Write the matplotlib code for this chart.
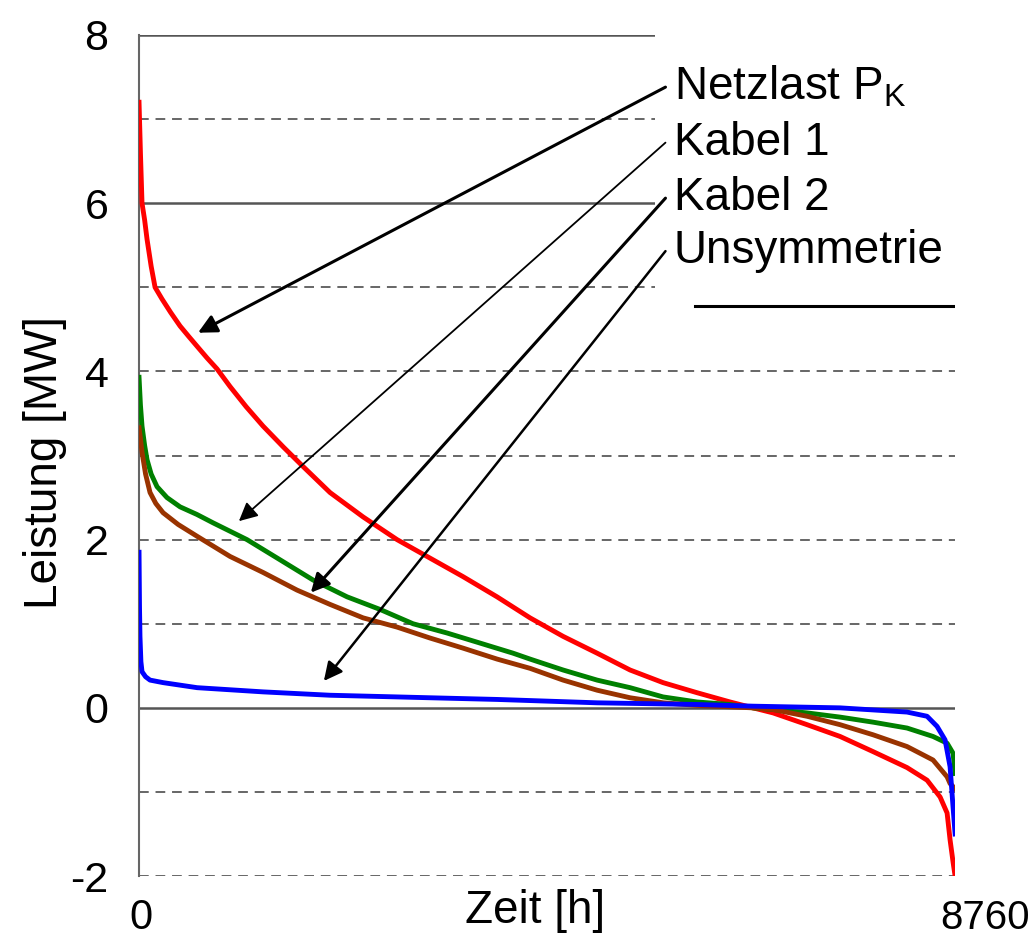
import matplotlib
matplotlib.use('Agg')
import matplotlib.pyplot as plt
from matplotlib.patches import Rectangle

plt.rcParams['font.family'] = ['Liberation Sans', 'DejaVu Sans']
plt.rcParams['mathtext.default'] = 'regular'

# Dauerlinien (sortiert)
netz_x = [0, 15, 32, 60, 86, 130, 172, 247, 340, 440, 530, 622, 730, 837, 977, 1150, 1331,
          1550, 1760, 2050, 2405, 2770, 3124, 3478, 3843, 4197, 4552, 4917, 5271, 5625,
          5990, 6344, 6591, 6806, 7171, 7525, 7879, 8244, 8459, 8599, 8674, 8706, 8740, 8760]
netz_y = [7.2, 6.6, 6.0, 5.8, 5.57, 5.25, 5.0, 4.86, 4.7, 4.54, 4.42, 4.3, 4.16, 4.03, 3.82,
          3.58, 3.35, 3.1, 2.87, 2.56, 2.27, 2.0, 1.78, 1.56, 1.32, 1.07, 0.85, 0.65, 0.45,
          0.3, 0.18, 0.07, 0.0, -0.06, -0.2, -0.34, -0.52, -0.71, -0.86, -1.06, -1.25,
          -1.57, -1.85, -2.0]

kabel1_x = [0, 15, 32, 60, 86, 130, 193, 300, 440, 620, 794, 1159, 1514, 1868, 2233, 2587,
            2941, 3306, 3661, 4015, 4197, 4552, 4917, 5271, 5625, 5990, 6344, 6591, 6806,
            7171, 7525, 7879, 8244, 8523, 8674, 8738, 8760]
kabel1_y = [3.93, 3.6, 3.35, 3.12, 2.95, 2.78, 2.63, 2.5, 2.39, 2.3, 2.2, 2.0, 1.76, 1.52,
            1.32, 1.17, 1.0, 0.89, 0.77, 0.65, 0.58, 0.45, 0.33, 0.24, 0.13, 0.07, 0.04,
            0.0, -0.02, -0.06, -0.11, -0.17, -0.24, -0.34, -0.42, -0.54, -0.78]

kabel2_x = [0, 15, 32, 70, 118, 180, 258, 420, 623, 977, 1331, 1696, 2050, 2405, 2770,
            3124, 3478, 3843, 4197, 4552, 4917, 5271, 5625, 5990, 6591, 6806, 7171, 7525,
            7879, 8244, 8523, 8674, 8706, 8760]
kabel2_y = [3.33, 3.2, 3.04, 2.78, 2.56, 2.43, 2.32, 2.18, 2.04, 1.8, 1.61, 1.4, 1.23, 1.07,
            0.96, 0.83, 0.71, 0.58, 0.47, 0.33, 0.21, 0.12, 0.06, 0.03, 0.0, -0.02, -0.1,
            -0.2, -0.32, -0.46, -0.62, -0.82, -0.9, -0.96]

unsym_x = [0, 5, 10, 20, 32, 70, 118, 258, 623, 1331, 2050, 2770, 3124, 3843, 4917, 5990,
           6591, 7525, 8244, 8459, 8566, 8652, 8706, 8738, 8760]
unsym_y = [1.85, 1.2, 0.85, 0.55, 0.43, 0.37, 0.33, 0.3, 0.24, 0.19, 0.15, 0.13, 0.12, 0.1,
           0.06, 0.04, 0.02, 0.0, -0.05, -0.1, -0.22, -0.38, -0.7, -1.18, -1.5]

labels = ['Netzlast P$_{K}$', 'Kabel 1', 'Kabel 2', 'Unsymmetrie']
label_y = [7.38, 6.72, 6.06, 5.43]
arrow_tip = [(633, 4.46), (1072, 2.22), (1844, 1.37), (1984, 0.32)]
arrow_lw = [2.2, 1.3, 2.2, 1.8]

solid_grid = [8, 6, 0]
dashed_grid = [7, 5, 4, 3, 2, 1, -1, -2]
yticks = [-2, 0, 2, 4, 6, 8]

fig = plt.figure(figsize=(10.33, 9.4), dpi=100)
ax = fig.add_axes([0.1346, 0.068, 0.79, 0.8948])
ax.set_xlim(0, 8760)
ax.set_ylim(-2, 8)

for g in solid_grid:
    ax.axhline(g, color='#555555', lw=1.8, zorder=1)
for g in dashed_grid:
    ax.axhline(g, color='#666666', lw=1.4, ls=(0, (5, 3.5)), zorder=1)

# weisses Feld hinter der Beschriftung
ax.add_patch(Rectangle((5543, 4.78), 3500, 4.0, facecolor='white', edgecolor='none',
                       zorder=2, clip_on=False))
ax.plot([5973, 8760], [4.78, 4.78], color='black', lw=2.2, zorder=3)

ax.plot(netz_x, netz_y, color='#ff0000', lw=3.5, zorder=4)
ax.plot(kabel1_x, kabel1_y, color='#008000', lw=3.5, zorder=4)
ax.plot(kabel2_x, kabel2_y, color='#993300', lw=3.5, zorder=4)
ax.plot(unsym_x, unsym_y, color='#0000ff', lw=3.5, zorder=4)

for lab, ly, tip, lw in zip(labels, label_y, arrow_tip, arrow_lw):
    ax.annotate('', xy=tip, xytext=(5651, ly),
                arrowprops=dict(arrowstyle='-|>', color='black', lw=lw,
                                mutation_scale=28, shrinkA=0, shrinkB=0), zorder=5)
    ax.text(5740, ly, lab, fontsize=33, va='center', ha='left', zorder=6)

for s in ['top', 'right', 'bottom']:
    ax.spines[s].set_visible(False)
ax.spines['left'].set_color('#666666')
ax.spines['left'].set_linewidth(1.5)

ax.set_yticks(yticks)
ax.set_yticklabels([str(t) for t in yticks], fontsize=31)
ax.tick_params(axis='y', length=0, pad=22)
ax.set_xticks([])

fig.text(141 / 1033, 0.0234, '0', fontsize=30, ha='center', va='center')
fig.text(1030 / 1033, 0.0234, '8760', fontsize=29, ha='right', va='center')
fig.text(535 / 1033, 0.031, 'Zeit [h]', fontsize=33, ha='center', va='center')
fig.text(0.044, 0.508, 'Leistung [MW]', fontsize=33, rotation=90, ha='center', va='center')

fig.savefig('out.png', dpi=100)
